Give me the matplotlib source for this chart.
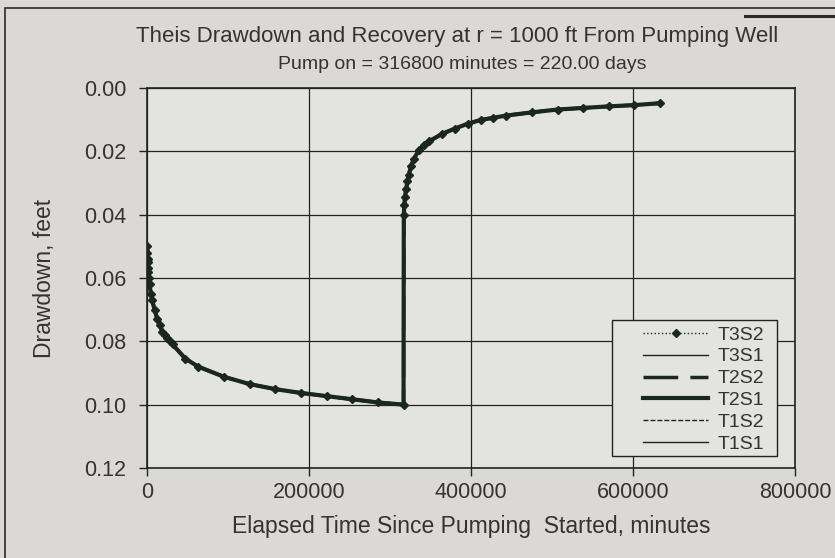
import matplotlib
matplotlib.use("Agg")
import matplotlib.pyplot as plt
from matplotlib.patches import Rectangle
from matplotlib.lines import Line2D

plt.rcParams['font.family'] = ['Liberation Sans', 'DejaVu Sans']

# elapsed time (minutes) and drawdown (feet)
t_pump = [317, 634, 950, 1267, 1584, 1901, 2534, 3168, 4752, 6336, 9504, 12672,
          15840, 19008, 22176, 25344, 28512, 31680, 47520, 63360, 95040, 126720,
          158400, 190080, 221760, 253440, 285120, 316800]
s_pump = [0.050, 0.052, 0.054, 0.055, 0.057, 0.058, 0.060, 0.062, 0.065, 0.067,
          0.070, 0.073, 0.075, 0.077, 0.078, 0.079, 0.080, 0.081, 0.0855, 0.088,
          0.0912, 0.0935, 0.0951, 0.0963, 0.0973, 0.0983, 0.0993, 0.1000]

t_rec = [317117, 317750, 318384, 319968, 321552, 323136, 326304, 329472, 335808,
         342144, 348480, 364320, 380160, 396000, 411840, 427680, 443520, 475200,
         506880, 538560, 570240, 601920, 633600]
s_rec = [0.040, 0.037, 0.0345, 0.032, 0.0295, 0.0275, 0.0245, 0.0225, 0.0195,
         0.018, 0.0168, 0.0145, 0.0128, 0.0113, 0.0101, 0.0094, 0.0087, 0.0077,
         0.0068, 0.0063, 0.0058, 0.0054, 0.0048]

times = t_pump + t_rec
drawdown = s_pump + s_rec

# the six T/S cases plot on top of each other
series = ["T3S2", "T3S1", "T2S2", "T2S1", "T1S2", "T1S1"]

line_col = "#1c2620"
outer_bg = "#dad9d5"
plot_bg = "#e3e3e0"
txt_col = "#333333"

fig = plt.figure(figsize=(8.35, 5.58), dpi=100, facecolor=outer_bg)
ax = fig.add_axes([0.176, 0.1613, 0.776, 0.681])
ax.set_facecolor(plot_bg)

styles = {
    "T3S2": dict(ls=":", lw=1.0, marker="D", ms=4),
    "T3S1": dict(ls="-", lw=1.0),
    "T2S2": dict(ls=(0, (10, 3.5)), lw=2.5),
    "T2S1": dict(ls="-", lw=3.0),
    "T1S2": dict(ls=(0, (3.6, 1.4)), lw=1.0),
    "T1S1": dict(ls="-", lw=1.0),
}
for name in reversed(series):
    ax.plot(times, drawdown, color=line_col, label=name, **styles[name])

ax.set_xlim(0, 800000)
ax.set_ylim(0.12, 0.0)
ax.set_xticks([0, 200000, 400000, 600000, 800000])
ax.set_yticks([0.0, 0.02, 0.04, 0.06, 0.08, 0.10, 0.12])
ax.set_yticklabels(["0.00", "0.02", "0.04", "0.06", "0.08", "0.10", "0.12"])
ax.grid(True, color="#222222", lw=0.9)
ax.set_axisbelow(True)
for sp in ax.spines.values():
    sp.set_color("#222222")
    sp.set_linewidth(1.2)
ax.tick_params(direction="out", length=6, width=1, colors="#222222",
               labelsize=15.5, labelcolor=txt_col)
ax.tick_params(axis="y", pad=9)
ax.tick_params(axis="x", pad=4)

ax.set_xlabel("Elapsed Time Since Pumping  Started, minutes", fontsize=16.5,
              color=txt_col, labelpad=9)
ax.set_ylabel("Drawdown, feet", fontsize=16.5, color=txt_col, labelpad=20)

fig.text(0.547, 0.935, "Theis Drawdown and Recovery at r = 1000 ft From Pumping Well",
         ha="center", va="center", fontsize=16, color=txt_col)
fig.text(0.554, 0.885, "Pump on = 316800 minutes = 220.00 days",
         ha="center", va="center", fontsize=14, color=txt_col)

# legend box drawn separately (wide left margin as in the original)
ax.add_patch(Rectangle((0.718, 0.032), 0.254, 0.358, transform=ax.transAxes,
                       facecolor=plot_bg, edgecolor="#222222", lw=1.0, zorder=4))
handles = [Line2D([], [], color=line_col, label=n, **styles[n]) for n in series]
leg = ax.legend(handles=handles, loc="lower right", bbox_to_anchor=(0.961, 0.024),
                fontsize=14, frameon=False,
                handlelength=3.35, labelspacing=0.22, borderpad=0.3,
                handletextpad=0.45, borderaxespad=0)
leg.set_zorder(5)
for txt in leg.get_texts():
    txt.set_color(txt_col)

# outer chart frame
fig.patches.append(Rectangle((5 / 835, -0.1), 1.2, 1.1 - 8 / 558, transform=fig.transFigure,
                             fill=False, edgecolor="#2a2a2a", lw=1.2))
fig.add_artist(Line2D([745 / 835, 1.0], [1 - 16 / 558, 1 - 16 / 558],
                      transform=fig.transFigure, color="#2a2a2a", lw=2.2))

fig.savefig("out.png", dpi=100, facecolor=outer_bg)
